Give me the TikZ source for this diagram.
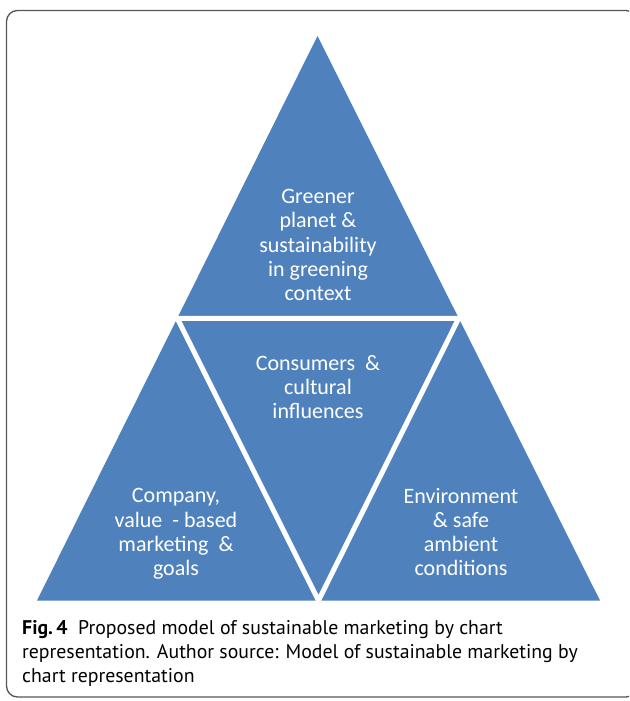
\documentclass[tikz,border=0pt]{standalone}
\usepackage{fontspec}
\setmainfont{Carlito}
\newfontfamily\capfont{PT Sans}
\usetikzlibrary{calc}
\definecolor{ablue}{HTML}{4F81BD}
\definecolor{framegray}{HTML}{555555}
\tikzset{
  lbl/.style={text=white, align=center, inner sep=0pt, font=\fontsize{22}{24.3}\selectfont},
  gap/.style={draw=white, line width=5pt, line join=miter},
  frame/.style={draw=framegray, line width=1.3pt, rounded corners=11pt},
  caption/.style={anchor=north west, align=left, inner sep=0pt, font=\capfont\fontsize{19.8}{24}\selectfont}
}
\begin{document}
\begin{tikzpicture}[x=1pt,y=-1pt]
\useasboundingbox (0,0) rectangle (629,701);
\begin{scope}
  \clip (0,0) rectangle (629,701);
  \draw[frame] (6.5,10.5) rectangle (637,697);
\end{scope}
\coordinate (A) at (317.5,36);
\coordinate (B) at (37,600.5);
\coordinate (C) at (600,600.5);
\fill[ablue] (A) -- (B) -- (C) -- cycle;
\coordinate (AB) at ($(A)!0.5!(B)$);
\coordinate (AC) at ($(A)!0.5!(C)$);
\coordinate (BC) at ($(B)!0.5!(C)$);
\draw[gap] (AB) -- (AC) -- (BC) -- cycle;
\node[lbl] (top) at (318,245) {Greener\\planet \&\\sustainability\\in greening\\context};
\node[lbl] (mid) at (318,387) {Consumers\ \ \&\\cultural\\influences};
\node[lbl] (left) at (176,534) {Company,\\value\ \ - based\\marketing\ \ \&\\goals};
\node[lbl] (right) at (461,532) {Environment\\\& safe\\ambient\\conditions};
\node[caption] (cap) at (22,620) {\textbf{Fig.\,4}\ \ Proposed model of sustainable marketing by chart\\representation. Author source: Model of sustainable marketing by\\chart representation};
\end{tikzpicture}
\end{document}
